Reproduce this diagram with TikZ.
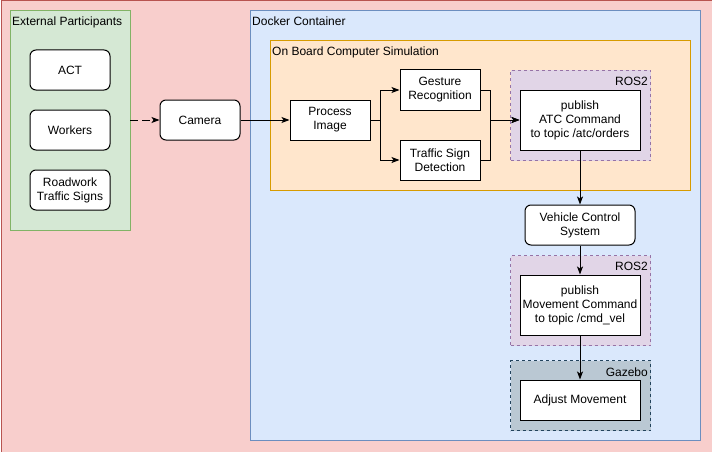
\documentclass[tikz,border=0pt]{standalone}
\usepackage{fontspec}
\setmainfont{Liberation Sans}
\usetikzlibrary{arrows.meta}
\definecolor{redfill}{HTML}{F8CECC}\definecolor{redline}{HTML}{B85450}
\definecolor{greenfill}{HTML}{D5E8D4}\definecolor{greenline}{HTML}{82B366}
\definecolor{bluefill}{HTML}{DAE8FC}\definecolor{blueline}{HTML}{6C8EBF}
\definecolor{orangefill}{HTML}{FFE6CC}\definecolor{orangeline}{HTML}{D79B00}
\definecolor{purplefill}{HTML}{E1D5E7}\definecolor{purpleline}{HTML}{9673A6}
\definecolor{grayfill}{HTML}{BAC8D3}\definecolor{grayline}{HTML}{23445D}
\begin{document}
\begin{tikzpicture}[x=1pt,y=-1pt,
  every node/.style={font=\fontsize{12}{14}\selectfont, inner sep=0pt, align=center},
  container/.style={draw, line width=1pt, anchor=north west},
  box/.style={draw, fill=white, line width=1pt, minimum width=80pt, minimum height=40pt},
  rbox/.style={box, rounded corners=6pt},
  lbl/.style={anchor=base west},
  rlbl/.style={anchor=base east},
  arr/.style={draw, line width=1pt, -{Stealth[length=8pt,width=6pt,inset=2pt]}}
]
\useasboundingbox (0,0) rectangle (712,452);
\node[container, fill=redfill, draw=redline, minimum width=711pt, minimum height=451pt] (outer) at (0.5,0.5) {};
\node[container, fill=greenfill, draw=greenline, minimum width=120pt, minimum height=220pt] (ext) at (10,10) {};
\node[lbl] (extl) at (12,26) {External Participants};
\node[container, fill=bluefill, draw=blueline, minimum width=450pt, minimum height=430pt] (docker) at (250,10) {};
\node[lbl] (dockl) at (252,26) {Docker Container};
\node[container, fill=orangefill, draw=orangeline, minimum width=420pt, minimum height=150pt] (obc) at (270,40) {};
\node[lbl] (obcl) at (272,56) {On Board Computer Simulation};
\node[container, fill=purplefill, draw=purpleline, dash pattern=on 3pt off 3pt, minimum width=140pt, minimum height=90pt] (ros1) at (510,70) {};
\node[rlbl] (ros1l) at (648,85) {ROS2};
\node[container, fill=purplefill, draw=purpleline, dash pattern=on 3pt off 3pt, minimum width=140pt, minimum height=90pt] (ros2) at (510,255) {};
\node[rlbl] (ros2l) at (648,270) {ROS2};
\node[container, fill=grayfill, draw=grayline, dash pattern=on 3pt off 3pt, minimum width=140pt, minimum height=70pt] (gaz) at (510,360) {};
\node[rlbl] (gazl) at (648,376) {Gazebo};

\node[rbox] (act) at (70,70) {ACT};
\node[rbox] (work) at (70,130) {Workers};
\node[rbox] (road) at (70,190) {Roadwork\\Traffic Signs};
\node[rbox] (cam) at (200,120) {Camera};
\node[box] (proc) at (330,120) {Process\\Image};
\node[box] (gest) at (440,90) {Gesture\\Recognition};
\node[box] (tsd) at (440,160) {Traffic Sign\\Detection};
\node[box, minimum width=120pt, minimum height=60pt] (atc) at (580,120) {publish\\ATC Command\\to topic /atc/orders};
\node[rbox, minimum width=110pt] (vcs) at (580,225) {Vehicle Control\\System};
\node[box, minimum width=120pt, minimum height=60pt] (mov) at (580,305) {publish\\Movement Command\\to topic /cmd\_vel};
\node[box, minimum width=120pt] (adj) at (580,400) {Adjust Movement};

\coordinate (extr) at (130,120);
\draw[arr, dash pattern=on 8pt off 4pt] (extr) -- (cam.west);
\draw[arr] (cam.east) -- (proc.west);
\draw[arr] (proc.east) -- ++(10,0) |- (gest.west);
\draw[arr] (proc.east) -- ++(10,0) |- (tsd.west);
\draw[arr] (gest.east) -- ++(10,0) |- (atc.west);
\draw[arr] (tsd.east) -- ++(10,0) |- (atc.west);
\draw[arr] (atc.south) -- (vcs.north);
\draw[arr] (vcs.south) -- (mov.north);
\draw[arr] (mov.south) -- (adj.north);
\end{tikzpicture}
\end{document}
